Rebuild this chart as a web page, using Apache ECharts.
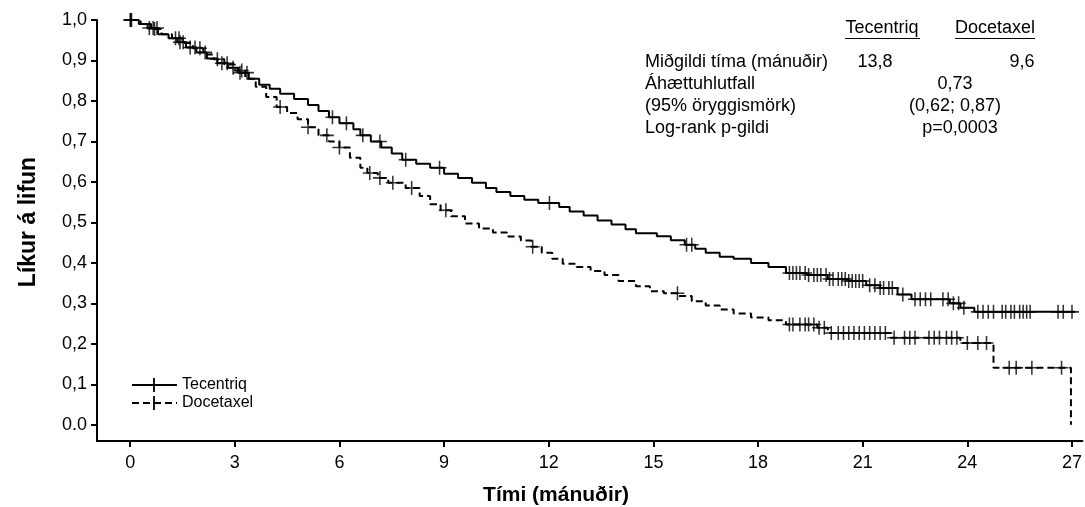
<!DOCTYPE html>
<html>
<head>
<meta charset="utf-8">
<script src="https://cdn.jsdelivr.net/npm/echarts@6/dist/echarts.min.js"></script>
<style>html,body{margin:0;padding:0;background:#fff}#c{width:1085px;height:507px}</style>
</head>
<body>
<div id="c"></div>
<script>
// ---- data ----
const xTicks = [0, 3, 6, 9, 12, 15, 18, 21, 24, 27];
const yTicks = [0, 0.1, 0.2, 0.3, 0.4, 0.5, 0.6, 0.7, 0.8, 0.9, 1.0];

const tecTime = [0,0.25,0.5,0.8,1.1,1.35,1.6,1.9,2.2,2.5,2.8,3.1,3.4,3.7,4.0,4.3,4.7,5.1,5.4,5.7,6.0,6.4,6.6,6.9,7.2,7.5,7.8,8.2,8.6,9.0,9.4,9.8,10.2,10.5,10.9,11.3,11.7,12.3,12.6,13.0,13.4,13.8,14.2,14.5,15.1,15.5,15.9,16.2,16.5,16.9,17.3,17.8,18.3,18.8,19.4,20.0,20.6,21.1,21.5,22.0,22.4,23.5,23.8,24.2,27.1];
const tecSurv = [1.0,0.99,0.98,0.965,0.955,0.945,0.932,0.92,0.905,0.893,0.882,0.87,0.855,0.84,0.83,0.818,0.805,0.79,0.775,0.76,0.745,0.73,0.715,0.70,0.685,0.67,0.655,0.645,0.635,0.62,0.61,0.598,0.585,0.575,0.565,0.556,0.548,0.538,0.527,0.517,0.505,0.495,0.483,0.473,0.466,0.456,0.445,0.435,0.425,0.415,0.41,0.40,0.39,0.375,0.37,0.36,0.355,0.345,0.338,0.322,0.31,0.30,0.289,0.279,0.279];

const docTime = [0,0.3,0.6,0.9,1.2,1.5,1.8,2.1,2.4,2.7,3.0,3.3,3.6,3.9,4.2,4.5,4.8,5.1,5.4,5.7,6.0,6.3,6.6,6.8,7.1,7.4,7.9,8.3,8.6,8.9,9.2,9.6,10.0,10.4,10.8,11.2,11.5,11.8,12.1,12.4,12.8,13.2,13.6,14.0,14.5,14.9,15.3,15.7,16.1,16.5,16.9,17.3,17.8,18.3,18.8,19.7,20.0,21.8,23.8,24.75,26.97];
const docSurv = [1.0,0.99,0.978,0.965,0.955,0.943,0.93,0.915,0.903,0.89,0.875,0.855,0.835,0.81,0.785,0.77,0.755,0.735,0.715,0.70,0.685,0.66,0.635,0.622,0.61,0.598,0.585,0.565,0.545,0.53,0.515,0.497,0.485,0.475,0.465,0.455,0.44,0.425,0.41,0.398,0.39,0.38,0.37,0.355,0.342,0.33,0.325,0.318,0.305,0.295,0.285,0.275,0.265,0.258,0.248,0.24,0.227,0.215,0.202,0.141,0.0];

const tecCensor = [0,0.02,0.04,0.55,0.66,0.77,1.3,1.43,1.52,1.72,1.86,2.15,2.63,2.78,2.95,3.15,3.35,5.8,6.2,6.67,7.16,7.9,8.87,12.02,15.95,16.1,
  18.9,19.0,19.1,19.2,19.35,19.45,19.6,19.7,19.8,19.95,20.05,20.15,20.3,20.4,20.5,20.6,20.7,20.8,20.9,21.0,21.2,21.35,21.5,21.6,21.75,21.85,
  22.15,22.5,22.65,22.8,22.95,23.3,23.45,23.6,23.75,23.9,24.3,24.45,24.6,24.75,25.0,25.1,25.25,25.35,25.5,25.6,25.7,25.8,26.6,26.75,27.0];
const docCensor = [0.7,1.4,2.0,2.5,3.2,4.3,5.1,5.64,6.0,6.87,7.16,7.53,8.07,9.05,11.54,15.69,
  18.9,19.0,19.2,19.35,19.45,19.6,19.75,19.9,20.1,20.3,20.45,20.6,20.75,20.9,21.05,21.2,21.35,21.5,21.65,
  21.9,22.2,22.35,22.5,22.9,23.05,23.2,23.4,23.55,23.7,24.0,24.3,24.55,25.2,25.4,25.85,26.7];

const seriesNames = ['Tecentriq', 'Docetaxel'];

// ---- helpers ----
function pairs(t, s) { return t.map((v, i) => [v, s[i]]); }
function survAt(t, s, c) { let v = s[0]; for (let i = 0; i < t.length; i++) { if (t[i] <= c) v = s[i]; else break; } return v; }
function censorPts(t, s, cs) { return cs.map(c => [c, survAt(t, s, c)]); }

const FONT = "'Liberation Sans', Arial, sans-serif";
const plus = 'path://M-1.1,-10 L1.1,-10 L1.1,-1.1 L10,-1.1 L10,1.1 L1.1,1.1 L1.1,10 L-1.1,10 L-1.1,1.1 L-10,1.1 L-10,-1.1 L-1.1,-1.1 Z';
const F = '18px ' + FONT;

const chart = echarts.init(document.getElementById('c'), null, { renderer: 'canvas' });

const option = {
  animation: false,
  backgroundColor: '#fff',
  grid: { left: 97, right: 2, top: 20, bottom: 66 },
  xAxis: {
    type: 'value', min: -0.95, max: 27.3,
    axisLine: { onZero: false, lineStyle: { color: '#000', width: 2 } },
    axisTick: { show: true, length: 6, lineStyle: { color: '#000', width: 2 }, customValues: xTicks },
    axisLabel: { color: '#000', fontSize: 18, fontFamily: FONT, margin: 13, customValues: xTicks },
    splitLine: { show: false }
  },
  yAxis: {
    type: 'value', min: -0.04, max: 1.0,
    axisLine: { show: true, onZero: false, lineStyle: { color: '#000', width: 2 } },
    axisTick: { show: true, length: 6, lineStyle: { color: '#000', width: 2 }, customValues: yTicks },
    axisLabel: { color: '#000', fontSize: 18, fontFamily: FONT, margin: 10, customValues: yTicks,
      formatter: v => (Math.abs(v) < 1e-9 ? '0.0' : v.toFixed(1).replace('.', ',')) },
    splitLine: { show: false }
  },
  series: [
    { name: seriesNames[0], type: 'line', step: 'end', data: pairs(tecTime, tecSurv), symbol: 'none',
      lineStyle: { color: '#000', width: 2 }, z: 3 },
    { name: seriesNames[1], type: 'line', step: 'end', data: pairs(docTime, docSurv), symbol: 'none',
      lineStyle: { color: '#000', width: 2, type: [7, 4] }, z: 3 },
    { name: seriesNames[0] + ' censor', type: 'scatter', data: censorPts(tecTime, tecSurv, tecCensor),
      symbol: plus, symbolSize: 14, itemStyle: { color: '#000' }, z: 4 },
    { name: seriesNames[1] + ' censor', type: 'scatter', data: censorPts(docTime, docSurv, docCensor),
      symbol: plus, symbolSize: 14, itemStyle: { color: '#000' }, z: 4 }
  ],
  graphic: [
    // axis titles
    { type: 'text', x: 556, y: 495, style: { text: 'Tími (mánuðir)', font: 'bold 21px ' + FONT, fill: '#000', align: 'center', verticalAlign: 'middle' } },
    { type: 'text', x: 29, y: 222, rotation: Math.PI / 2, style: { text: 'Líkur á lifun', font: 'bold 23px ' + FONT, fill: '#000', align: 'center', verticalAlign: 'middle' } },
    // legend
    { type: 'line', shape: { x1: 132, y1: 385, x2: 177, y2: 385 }, style: { stroke: '#000', lineWidth: 2 } },
    { type: 'line', shape: { x1: 154, y1: 378, x2: 154, y2: 392 }, style: { stroke: '#000', lineWidth: 1.8 } },
    { type: 'text', x: 182, y: 385, style: { text: seriesNames[0], font: '16px ' + FONT, fill: '#000', verticalAlign: 'middle' } },
    { type: 'line', shape: { x1: 132, y1: 403, x2: 177, y2: 403 }, style: { stroke: '#000', lineWidth: 2, lineDash: [7, 4] } },
    { type: 'line', shape: { x1: 154, y1: 396, x2: 154, y2: 410 }, style: { stroke: '#000', lineWidth: 1.8 } },
    { type: 'text', x: 182, y: 403, style: { text: seriesNames[1], font: '16px ' + FONT, fill: '#000', verticalAlign: 'middle' } },
    // annotation table
    { type: 'text', x: 882, y: 28, style: { text: 'Tecentriq', font: F, fill: '#000', align: 'center', verticalAlign: 'middle' } },
    { type: 'line', shape: { x1: 845, y1: 38.5, x2: 920, y2: 38.5 }, style: { stroke: '#000', lineWidth: 1 } },
    { type: 'text', x: 995, y: 28, style: { text: 'Docetaxel', font: F, fill: '#000', align: 'center', verticalAlign: 'middle' } },
    { type: 'line', shape: { x1: 955, y1: 38.5, x2: 1035, y2: 38.5 }, style: { stroke: '#000', lineWidth: 1 } },
    { type: 'text', x: 645, y: 62, style: { text: 'Miðgildi tíma (mánuðir)', font: F, fill: '#000', verticalAlign: 'middle' } },
    { type: 'text', x: 875, y: 62, style: { text: '13,8', font: F, fill: '#000', align: 'center', verticalAlign: 'middle' } },
    { type: 'text', x: 1022, y: 62, style: { text: '9,6', font: F, fill: '#000', align: 'center', verticalAlign: 'middle' } },
    { type: 'text', x: 645, y: 84, style: { text: 'Áhættuhlutfall', font: F, fill: '#000', verticalAlign: 'middle' } },
    { type: 'text', x: 955, y: 84, style: { text: '0,73', font: F, fill: '#000', align: 'center', verticalAlign: 'middle' } },
    { type: 'text', x: 645, y: 106, style: { text: '(95% öryggismörk)', font: F, fill: '#000', verticalAlign: 'middle' } },
    { type: 'text', x: 955, y: 106, style: { text: '(0,62; 0,87)', font: F, fill: '#000', align: 'center', verticalAlign: 'middle' } },
    { type: 'text', x: 645, y: 128, style: { text: 'Log-rank p-gildi', font: F, fill: '#000', verticalAlign: 'middle' } },
    { type: 'text', x: 960, y: 128, style: { text: 'p=0,0003', font: F, fill: '#000', align: 'center', verticalAlign: 'middle' } }
  ]
};
chart.setOption(option);
</script>
</body>
</html>
